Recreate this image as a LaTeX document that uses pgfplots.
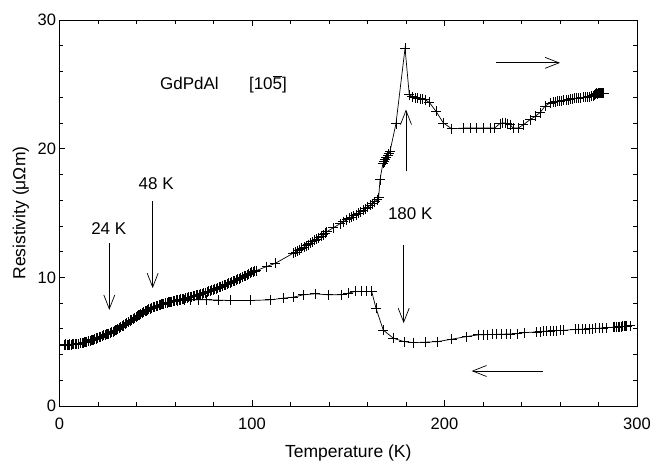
\documentclass[border=0pt]{standalone}
\usepackage{pgfplots}
\pgfplotsset{compat=1.18}
\usepackage{fontspec}
\setmainfont{Liberation Sans}
\usetikzlibrary{arrows.meta}
\begin{document}
\begin{tikzpicture}
\useasboundingbox (-59.5pt,-57pt) rectangle (591.5pt,406pt);
\begin{axis}[
  at={(0,0)}, anchor=south west,
  scale only axis, width=577.5pt, height=386pt,
  xmin=0, xmax=300, ymin=0, ymax=30,
  xtick={0,100,200,300}, ytick={0,10,20,30},
  minor x tick num=4, minor y tick num=4,
  major tick length=6pt, minor tick length=4pt,
  tick style={black, line width=0.7pt},
  axis line style={line width=0.8pt},
  tick label style={font=\fontsize{16.5}{19}\selectfont},
  /pgf/number format/assume math mode=true,
  xticklabel style={yshift=-8pt},
  label style={font=\fontsize{17.5}{20}\selectfont},
  xlabel={Temperature (K)},
  ylabel={Resistivity (μΩm)},
  xlabel style={at={(axis description cs:0.5,-0.1347)}, anchor=base},
  ylabel style={at={(axis description cs:-0.0589,0.5)}, anchor=base},
  clip=false,
]
% heating
\addplot[black, line width=0.7pt, mark=+, mark size=5pt, mark options={line width=0.75pt}] coordinates {
(2.5,4.75)(3.2,4.74)(3.9,4.76)(4.6,4.75)(5.3,4.77)(6.0,4.76)(6.7,4.78)(7.4,4.78)(8.1,4.80)(9.0,4.81)(10.0,4.84)(11.0,4.87)(11.8,4.90)(12.6,4.93)(13.4,4.96)(14.2,5.00)(15.0,5.04)(15.8,5.08)(16.6,5.12)(17.4,5.16)(18.2,5.20)(19.0,5.24)(19.8,5.28)(20.6,5.33)(21.4,5.38)(22.2,5.43)(23.0,5.48)(23.8,5.53)(24.6,5.58)(25.4,5.63)(26.2,5.68)(27.0,5.73)(27.8,5.79)(28.6,5.85)(29.4,5.91)(30.2,5.97)(31.0,6.04)(31.8,6.11)(32.6,6.19)(33.4,6.27)(34.2,6.35)(35.0,6.43)(35.8,6.51)(36.6,6.59)(37.4,6.67)(38.2,6.75)(39.0,6.83)(39.8,6.91)(40.6,6.99)(41.4,7.07)(42.2,7.15)(43.0,7.23)(43.8,7.30)(44.6,7.37)(45.4,7.44)(46.2,7.50)(47.0,7.56)(47.8,7.61)(48.6,7.66)(49.4,7.71)(50.2,7.75)(51.0,7.79)(51.8,7.83)(52.6,7.87)(53.4,7.91)(54.2,7.95)(55.0,7.99)(55.8,8.02)(56.6,8.05)(57.4,8.08)(58.2,8.11)(59.0,8.14)(59.8,8.17)(60.6,8.20)(61.4,8.23)(62.2,8.26)(63.0,8.29)(63.8,8.32)(64.6,8.35)(65.4,8.38)(66.2,8.41)(67.0,8.44)(67.8,8.47)(68.6,8.50)(69.4,8.53)(70.2,8.56)(71.0,8.59)(71.8,8.62)(72.6,8.66)(73.4,8.70)(74.2,8.74)(75.0,8.78)(75.8,8.82)(76.6,8.86)(77.4,8.90)(78.2,8.94)(79.0,8.98)(79.8,9.03)(80.6,9.08)(81.4,9.13)(82.2,9.18)(83.0,9.23)(83.8,9.28)(84.6,9.33)(85.4,9.38)(86.2,9.43)(87.0,9.48)(87.8,9.53)(88.6,9.58)(89.4,9.63)(90.2,9.68)(91.0,9.73)(91.8,9.78)(92.6,9.84)(93.4,9.90)(94.2,9.96)(95.0,10.02)(95.8,10.08)(96.6,10.14)(97.4,10.20)(98.2,10.26)(99.0,10.32)(99.8,10.38)(100.6,10.43)(101.4,10.48)(102.2,10.52)
(107.6,10.84)(112.0,11.08)(121.5,11.88)(122.6,11.97)(123.7,12.06)(124.8,12.15)(125.9,12.25)(127.0,12.35)(128.1,12.45)(129.2,12.55)(130.3,12.65)(131.4,12.76)(132.5,12.87)(133.6,12.98)(134.7,13.09)(135.8,13.20)(136.9,13.32)(138.0,13.44)(138.8,13.54)(142.2,13.85)(145.7,14.16)(147.5,14.32)(149.2,14.47)(150.5,14.58)(151.7,14.68)(152.9,14.78)(154.1,14.88)(155.3,14.99)(156.5,15.10)(157.7,15.21)(158.9,15.33)(160.1,15.46)(161.3,15.59)(162.5,15.73)(163.7,15.87)(164.9,16.02)(165.8,16.20)(166.5,17.6)(168.0,18.85)(168.6,19.0)(169.2,19.15)(169.8,19.3)(170.4,19.45)(171.0,19.6)(171.7,19.8)(174.8,21.95)(179.5,27.8)(181.7,24.2)(183.2,24.05)(184.7,23.95)(186.0,23.9)(187.3,23.87)(188.6,23.83)(189.9,23.8)(192.1,23.6)(195.6,22.9)(199.4,22.0)(203.7,21.55)(209.8,21.6)(213.2,21.6)(216.7,21.6)(220.2,21.6)(223.6,21.6)(226.0,21.6)(228.8,21.95)(230.0,22.0)(231.4,22.0)(232.7,21.95)(234.0,21.87)(235.7,21.6)(238.3,21.6)(240.9,21.85)(244.4,22.25)(247.0,22.5)(249.6,22.8)(252.2,23.3)(254.8,23.55)(256.5,23.6)(257.6,23.65)(258.7,23.68)(259.8,23.7)(260.9,23.73)(262.0,23.76)(263.1,23.79)(264.2,23.82)(265.3,23.85)(266.4,23.87)(267.5,23.9)(268.6,23.92)(269.7,23.94)(270.8,23.96)(271.9,23.98)(273.0,24.0)(274.1,24.02)(275.2,24.05)(276.3,24.08)(277.3,24.12)(277.9,24.2)(278.5,24.25)(279.1,24.3)(279.6,24.28)(280.1,24.35)(280.6,24.3)(281.1,24.33)(281.6,24.3)(282.1,24.32)(282.6,24.3)
};
% cooling
\addplot[black, line width=0.7pt, mark=+, mark size=5pt, mark options={line width=0.75pt}] coordinates {
(3.0,4.78)(5.0,4.79)(7.0,4.80)(9.0,4.82)(11.0,4.88)(13.0,4.97)(15.0,5.06)(17.0,5.15)(19.0,5.25)(21.0,5.36)(23.0,5.49)(25.0,5.61)(27.0,5.74)(29.0,5.89)(31.0,6.05)(33.0,6.25)(35.0,6.45)(37.0,6.65)(39.0,6.85)(41.0,7.05)(43.0,7.24)(45.0,7.42)(47.0,7.57)(49.0,7.70)(51.0,7.80)(53.0,7.90)(55.0,8.0)(57.0,8.07)(59.0,8.13)(61.0,8.18)(63.0,8.22)(65.0,8.24)(68.0,8.25)(72.0,8.26)(76.5,8.25)(82.5,8.23)(88.6,8.2)(99.0,8.2)(109.5,8.25)(116.3,8.38)(121.5,8.46)(126.7,8.64)(132.7,8.72)(139.6,8.64)(146.6,8.64)(150.0,8.77)(153.5,8.9)(157.0,8.9)(159.6,8.9)(162.2,8.9)(164.4,7.6)(168.2,5.9)(173.4,5.27)(179.0,5.0)(183.8,4.93)(189.9,4.96)(196.3,5.0)(203.7,5.19)(211.5,5.4)(217.6,5.53)(220.2,5.54)(222.5,5.55)(224.9,5.56)(227.2,5.57)(229.4,5.58)(231.9,5.59)(234.1,5.6)(237.6,5.62)(241.3,5.7)(247.9,5.76)(249.6,5.78)(251.4,5.8)(253.1,5.82)(254.8,5.83)(256.6,5.85)(258.3,5.86)(260.0,5.87)(261.8,5.88)(267.8,5.95)(269.6,5.96)(271.4,5.97)(273.2,5.98)(275.0,6.0)(276.8,6.02)(278.6,6.03)(280.4,6.05)(282.2,6.06)(284.2,6.08)(287.7,6.12)(288.5,6.13)(289.3,6.14)(290.1,6.15)(290.9,6.16)(291.7,6.17)(292.5,6.18)(293.3,6.19)(294.1,6.2)(294.6,6.2)(296.4,6.23)
};
% annotations
\tikzset{barb/.style={-{Straight Barb[length=14pt,width=11pt,line width=0.7pt]}, line width=0.7pt}}
\draw[barb] (axis cs:25.87,12.66) -- (axis cs:25.87,7.47);
\draw[barb] (axis cs:48.4,15.9) -- (axis cs:48.4,9.16);
\draw[barb] (axis cs:180.0,18.23) -- (axis cs:180.0,23.04);
\draw[barb] (axis cs:178.8,12.53) -- (axis cs:178.8,6.44);
\draw[barb] (axis cs:226.75,26.67) -- (axis cs:260.0,26.67);
\draw[barb] (axis cs:251.0,2.72) -- (axis cs:214.1,2.72);
\node[anchor=base, font=\fontsize{17}{20}\selectfont] at (axis cs:25.6,13.3) {24 K};
\node[anchor=base, font=\fontsize{17}{20}\selectfont] at (axis cs:50.2,16.86) {48 K};
\node[anchor=base, font=\fontsize{17}{20}\selectfont] at (axis cs:182.2,14.47) {180 K};
\node[anchor=base, font=\fontsize{17}{20}\selectfont] at (axis cs:67.5,24.6) {GdPdAl};
\node[anchor=base, font=\fontsize{17}{20}\selectfont] at (axis cs:108.3,24.6) {[10$\overline{\mbox{5}}$]};
\end{axis}
\end{tikzpicture}
\end{document}
